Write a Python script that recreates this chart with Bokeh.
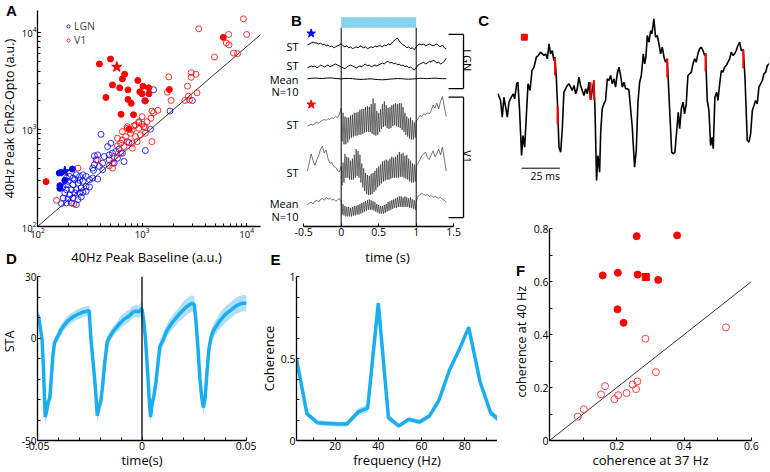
import numpy as np
from bokeh.plotting import figure
from bokeh.models import Range1d, FixedTicker, LogTicker, Legend, LegendItem, Span, CustomJSTickFormatter
from bokeh.layouts import row, column
from bokeh.embed import file_html
from bokeh.resources import INLINE
from bokeh.core.properties import value

FONT = "Open Sans"
LETTER_FONT = "Liberation Sans"
TICK_FS = "10.5px"
LAB_FS = "13px"
STA_BLUE = "#1aaeef"
STA_BAND = "#a8dcf5"

# ---------------- Panel A data (log10 of a.u.) ----------------
a_lgn_open_base = [3.267, 3.079, 3.031, 2.607, 2.827, 2.670, 2.717, 2.748, 2.780, 2.686,
                   2.638, 2.575, 2.544, 2.560, 2.623, 2.686, 2.733, 2.764, 2.811, 2.591,
                   2.528, 2.535, 2.623, 2.575, 2.528, 2.497, 2.465, 2.434, 2.403, 2.371,
                   2.355, 2.308, 2.277, 2.292, 2.340, 2.387, 2.434, 2.465, 2.418, 2.371,
                   2.324, 2.277, 2.261, 2.308, 2.355, 2.403, 2.434, 2.340, 2.292, 2.245,
                   2.387, 2.277, 2.230, 2.324, 2.371, 2.418, 2.465, 2.497, 2.245, 2.277,
                   2.544, 2.340, 2.403, 3.110, 3.025, 3.481, 2.701, 2.874]
a_lgn_open_opto = [3.190, 3.002, 2.783, 2.950, 2.670, 2.824, 2.756, 2.773, 2.797, 2.738,
                   2.721, 2.738, 2.728, 2.687, 2.653, 2.687, 2.653, 2.704, 2.756, 2.619,
                   2.602, 2.578, 2.585, 2.489, 2.499, 2.482, 2.516, 2.533, 2.516, 2.533,
                   2.482, 2.516, 2.499, 2.465, 2.431, 2.448, 2.465, 2.414, 2.397, 2.379,
                   2.379, 2.379, 2.345, 2.328, 2.345, 2.345, 2.352, 2.294, 2.284, 2.294,
                   2.277, 2.243, 2.236, 2.243, 2.226, 2.304, 2.362, 2.407, 2.407, 2.431,
                   2.636, 2.499, 2.475, 3.409, 3.296, 3.299, 2.858, 2.865]
a_v1_open_base = [3.969, 3.541, 3.827, 4.000, 3.805, 3.830, 3.874, 3.912, 3.692,
                  3.469, 3.516, 3.469, 3.255, 3.434, 3.525, 3.242, 3.277, 3.443, 3.409,
                  3.453, 3.151, 3.110, 3.085, 3.047, 2.969, 3.000, 2.921, 2.858, 3.031,
                  3.094, 3.000, 2.969, 2.937, 2.858, 2.906, 2.969, 3.016, 3.031, 2.984,
                  2.937, 2.890, 2.843, 2.811, 2.858, 2.906, 2.953, 2.796, 2.764, 2.827,
                  2.906, 3.094, 2.796, 2.733, 2.717, 2.686, 2.717, 2.575, 2.387, 2.182,
                  2.346, 2.811, 2.764]
a_v1_open_opto = [4.140, 4.038, 3.979, 3.979, 3.891, 3.873, 3.788, 3.781, 3.747,
                  3.586, 3.569, 3.538, 3.542, 3.446, 3.378, 3.385, 3.299, 3.344, 3.299,
                  3.303, 3.197, 3.173, 3.115, 3.080, 3.080, 3.053, 3.036, 3.029, 3.022,
                  3.190, 3.132, 3.070, 3.046, 3.012, 2.995, 3.012, 3.029, 2.961, 2.944,
                  2.926, 2.961, 2.926, 2.892, 2.875, 2.858, 2.875, 2.858, 2.831, 2.824,
                  2.807, 2.875, 2.756, 2.721, 2.653, 2.626, 2.602, 2.687, 2.602, 2.270,
                  2.232, 2.978, 2.910]
a_v1_fill_base = [2.592, 2.698, 2.833, 2.811, 2.717, 2.786, 2.865, 2.959, 3.009, 3.063,
                  2.978, 3.000, 3.066, 2.865, 2.896, 3.031, 2.654, 2.799, 2.918, 3.261,
                  3.776, 2.082, 2.875]
a_v1_fill_opto = [3.675, 3.726, 3.569, 3.521, 3.459, 3.429, 3.408, 3.505, 3.446, 3.429,
                  3.388, 3.367, 3.367, 3.310, 3.269, 3.295, 3.330, 3.156, 3.152, 3.412,
                  3.949, 2.462, 3.002]
a_lgn_fill_base = [2.208, 2.333, 2.261, 2.214, 2.214]
a_lgn_fill_opto = [2.551, 2.592, 2.475, 2.421, 2.393]
a_v1_star = (2.758, 3.644)
a_lgn_star = (2.261, 2.567)
a_diag_x = [100, 14500]
a_diag_y = [100, 10100]

# ---------------- Panel B data ----------------
b_ticks = [-0.5, 0, 0.5, 1, 1.5]
b_stim = (0.0, 1.0)
b_offsets = {"lgn_st1": 191, "lgn_st2": 168, "lgn_mean": 155.5,
             "v1_st1": 112, "v1_st2": 62, "v1_mean": 23.5}
b_lgn_st1 = [0, 1, 2, 3, 2,
             2, 1, 2, 0, 1, -1, 0, -2, -1, -3,
             -2, -1, 0, 1,
             -1, -2, -1, -3, -2, -4, -3, -2, -3, -1, -2, -3, -2, -4, -3, -2, -3, -1, -2, -1,
             -1, -2, 0, -1, 1, 0, 2,
             4, 6, 7, 4, 2, 0, -1, -3, -2, -4, -3, -5, -2,
             0, 1, 0, 1, -1, 0, 1, 0, -1, 0, 1, -1, -2, 0, -3, -4]
b_lgn_st2 = [-1, 0, 1, 0, 1, -1, 0, 2, 1, 0, 1, 2, 0, 1, 2, 3, 2, 1,
             0, -1, -2, 0, 1, 2, 1, 0, -1, 0, 1, 0, 2, 3, 1, 2, 0, 1, 2, 1,
             2, 3, 4, 3, 5, 6, 4, 5, 3, 4, 2, 3, 1, 2, 0, 1, -1, 0, -2, -3,
             -1, 2, 3, 4, 5, 3, 4, 6, 5, 7, 6, 4, 5, 3, 4, 6, 9]
b_lgn_mean = [0, 0.5, 0.8, 0.5, 0.3, 0.8, 1, 0.6, 0.2, 0, 0.3, 0.5, 0.2, -0.3, -0.6, -0.5,
              -0.2, 0, -0.5, -0.8, -1, -0.7, -0.3, 0, 0.3, 0.2, -0.2, -0.4, -0.2, 0.2, 0.6,
              0.4, 0.2, 0.5, 0.7, 0.4, 0.2, 0.1]
b_v1_st1_pre = [-6, -5, -4, -5, -3, -2, -3, -1, 0, 1, 0, 2, 1, 3, 2, 4, 3, 6]
b_v1_st1_up = [13, 8, 4, 3, 3, 5, 6, 8, 8, 9, 11, 12, 12, 14, 15, 14, 17, 23, 18, 10,
               8, 12, 17, 20, 16, 13, 14, 16, 17, 18, 17, 18, 18, 14, 8, 4, 2, 3, 0, -2, -1]
b_v1_st1_dn = [-22, -25, -25, -23, -20, -18, -17, -16, -16, -15, -15, -14, -13, -12, -12, -12,
               -14, -15, -16, -15, -12, -9, -7, -6, -8, -9, -8, -6, -5, -6, -7, -8, -10, -12,
               -15, -17, -19, -20, -20, -18]
b_v1_st1_post = [2, 5, 4, 7, 6, 8, 7, 10, 16, 13, 18, 12, 20, 25, 14, 4]
b_v1_st2_pre = [-3, 6, 15, 8, 3, 9, 13, 20, 23, 16, 19, 10, 5, 6, 2, 1, -2, -4]
b_v1_st2_up = [2, 6, 15, 12, 11, 8, 10, 14, 20, 18, 14, 5, 0, -5, -7, -8, -6, -5, -3, 0,
               2, 4, 7, 8, 9, 8, 10, 12, 11, 12, 14, 17, 15, 16, 13, 14, 10, 8, 5, 4, 2]
b_v1_st2_dn = [-18, -15, -10, -10, -12, -12, -12, -10, -8, -10, -15, -20, -24, -27, -28, -28,
               -27, -25, -23, -20, -18, -16, -14, -13, -12, -12, -11, -10, -10, -10, -10, -9,
               -9, -10, -11, -12, -14, -15, -15, -14]
b_v1_st2_post = [5, 9, 13, 15, 17, 11, 9, 14, 18, 12, 15, 20, 14, 22, 10, -3]
b_v1_mean_pre = [0, 2, 3, 1, 4, 5, 3, 6, 7, 5, 8, 6, 7, 5, 6, 4, 5, 7]
b_v1_mean_up = [4, 1, -1, -2, -2, -3, -2, -1, -1, 0, 1, 2, 3, 4, 5, 6, 5, 4, 3, 1,
                0, -1, -1, 0, 1, 3, 4, 5, 6, 7, 8, 9, 9, 8, 9, 8, 7, 8, 6, 5, 3]
b_v1_mean_dn = [-10, -11, -12, -12, -12, -12, -11, -11, -10, -10, -9, -8, -7, -6, -5, -5,
                -5, -6, -7, -8, -9, -9, -9, -8, -7, -6, -5, -4, -3, -3, -2, -2, -2, -2, -2,
                -2, -3, -3, -4, -5]
b_v1_mean_post = [9, 11, 12, 11, 10, 11, 9, 10, 8, 9, 8, 7, 8, 6, 5, 3]
b_labels = ["ST", "ST", "Mean", "N=10", "ST", "ST", "Mean", "N=10"]
b_label_y = [189, 169, 155, 142, 108, 58, 25, 11]
b_star_t = -0.40
b_star_y = {"lgn": 203, "v1": 128.7}

# ---------------- Panel C data (ms, a.u.) ----------------
c_t = [0, 1.7, 2.8, 3.9, 5.0, 6.1, 7.2, 8.7, 10.0, 10.9, 12.2, 13.0, 14.1, 15.4, 16.3, 17.4,
       18.7, 19.6, 20.9, 22.2, 23.5, 25.0, 26.3, 27.8, 28.9, 30.0, 31.1, 32.2, 33.3, 34.3,
       35.4, 36.5, 37.2, 38.0, 38.9, 39.8, 40.9, 42.0, 43.0, 44.1, 45.2, 46.3, 47.4, 48.5,
       49.6, 50.7, 51.7, 52.8, 53.9, 55.0, 56.1, 57.2, 58.3, 59.3, 60.4, 61.5, 62.6, 63.3,
       64.3, 65.2, 66.3, 67.0, 68.0, 69.1, 70.2, 71.3, 72.4, 73.5, 74.6, 75.7, 76.7, 77.8,
       78.9, 80.0, 81.1, 82.2, 83.3, 84.3, 85.4, 87.6, 89.1, 90.2, 91.3, 92.4, 93.5, 94.8,
       95.7, 96.5, 97.4, 98.5, 99.6, 100.4, 101.7, 102.8, 103.9, 105.0, 106.1, 107.2, 108.3,
       109.3, 110.4, 111.7, 113.3, 114.3, 115.4, 116.5, 117.6, 118.5, 119.6, 120.7, 121.7,
       122.8, 123.9, 125.0, 126.1, 127.2, 128.3, 129.3, 130.4, 131.5, 132.6, 133.7, 134.8,
       135.4, 136.5, 137.6, 138.7, 139.8, 140.4, 141.5, 142.6, 143.5, 144.6, 145.7, 146.7,
       147.8, 148.9, 150.0, 151.1, 152.2, 153.3, 154.3, 155.4, 156.5, 157.6, 158.7, 160.0,
       161.1, 162.6, 163.7, 164.8, 165.9, 167.0, 168.0, 169.1, 170.2, 171.3, 172.4, 173.5,
       174.6, 175.7, 176.7, 177.8]
c_v = [6.7, 0, -16.7, 3.3, -6.7, -16.7, -1.7, 3.3, 6.7, 1.7, 16.7, 18.3, -10, -55, -35, -46.7,
       -10, 16.7, 10, 30, 33.3, 43.3, 45, 48.3, 46.7, 45, 46.7, 41.7, 56.7, 46.7,
       50, 40, 43.3, 25, -6, -46.7, -51.7, -26.7, 8.3, 11.7, 15, 16.7, 13.3, 10,
       15, 6.7, 11.7, 23.3, 15, 10, 5, 11.7, 6.7, 18.3, 0.7, 10, 20, -10,
       -80, -55, -71.7, -31.7, -8.3, -3.3, 0, 21.7, 20, 25, 16.7, 21.7, 13.3, 26.7,
       33.3, 25, 13.3, 18.3, 11.7, 11.7, 10.7, -26.7, -66.7, -50, -1.7, 18.3, 25, 46.7,
       36.7, 43.3, 65, 58.3, 70, 66.7, 81.7, 63.3, 65, 56.7, 46.7, 53.3, 43.3,
       38.3, 41.7, 0, -51.7, -53.3, -51.7, -31.7, -11.7, -28.3, -8.3, -1.7, -13.3,
       -3.3, 25, 26.7, 28.3, 36.7, 41.7, 38.3, 46.7, 51.7, 53.3, 50, 45,
       47.3, 0, -10, -45, -36.7, -48.3, 3.3, 8.3, 0, 16.7, 30, 28.3,
       33.3, 35, 38.3, 41.7, 48.3, 45, 46.7, 50, 55, 58.3, 50, 50.7,
       23.3, -40, -41.7, -33.3, -10, -5, 0, -3.3, 13.3, 16.7, 20, 26.7,
       28.3, 35, 36.7, 33.3]
c_spike_t = [37.2, 38.9, 60.4, 62.6, 110.4, 135.4, 160.0]
c_spike_lo = [25, -24, 0.7, 0.7, 23.3, 29, 32.3]
c_spike_hi = [43.3, -6, 18.3, 20, 41.7, 47.3, 50.7]
c_marker = (17.2, 63.3)
c_scale_start, c_scale_len, c_scale_y = 15.4, 25, -67.7

# ---------------- Panel D data ----------------
d_t = [-0.0500, -0.0492, -0.0484, -0.0478, -0.0472, -0.0467, -0.0463, -0.0456, -0.0450, -0.0441,
       -0.0434, -0.0427, -0.0419, -0.0403, -0.0388, -0.0372, -0.0356, -0.0341, -0.0325, -0.0309,
       -0.0294, -0.0278, -0.0263, -0.0253, -0.0244, -0.0234, -0.0223, -0.0214, -0.0206, -0.0197,
       -0.0188, -0.0178, -0.0166, -0.0153, -0.0138, -0.0122, -0.0106, -0.0091, -0.0075, -0.0059,
       -0.0044, -0.0028, -0.0016, 0.0000, 0.0008, 0.0017, 0.0027, 0.0034, 0.0041, 0.0048,
       0.0058, 0.0067, 0.0077, 0.0086, 0.0102, 0.0117, 0.0133, 0.0148, 0.0164, 0.0180,
       0.0195, 0.0211, 0.0227, 0.0239, 0.0250, 0.0258, 0.0267, 0.0277, 0.0286, 0.0294,
       0.0302, 0.0311, 0.0320, 0.0331, 0.0344, 0.0359, 0.0375, 0.0391, 0.0406, 0.0422,
       0.0438, 0.0453, 0.0469, 0.0484, 0.0500]
d_sta = [11.5, 8.7, 3.2, -0.8, -13.4, -27.6, -38.6, -35.5, -31.5, -29.2,
         -19.7, -9.5, -2.4, 0.8, 3.9, 6.3, 8.2, 9.5, 10.6, 11.5,
         12.1, 12.8, 13.1, 13.4, -0.8, -11.8, -24.4, -37.9, -33.9, -30.8,
         -22.9, -11.8, -1.6, 0.8, 3.2, 5.2, 7.1, 8.7, 9.9, 11.0,
         12.6, 13.1, 12.8, 14.2, 8.7, -0.8, -16.6, -29.2, -38.6, -32.3,
         -27.6, -21.3, -11.8, -3.9, -0.8, 3.2, 5.8, 7.9, 9.9, 11.8,
         13.4, 15.0, 16.2, 16.9, 16.2, 8.7, -3.9, -19.7, -29.2, -33.9,
         -29.2, -16.6, -5.5, 0.8, 3.9, 6.3, 8.7, 10.6, 12.1, 13.4,
         14.7, 15.8, 16.6, 17.0, 16.9]
d_sem = [2.5, 2.5, 2.5, 2.5, 3, 3, 3.5, 3, 3, 3,
         3, 2.5, 2.5, 2.5, 2.5, 2.5, 2.5, 2.5, 2.5, 2.5,
         2.5, 2.5, 2.5, 2.5, 3, 3, 3, 3.5, 3, 3,
         3, 3, 2.5, 2.5, 2.5, 2.5, 3, 3, 3, 3,
         3, 3, 3, 3.5, 3, 3, 3, 3.5, 3.5, 3,
         3, 3, 3, 3, 3, 3, 3.5, 3.5, 3.5, 3.5,
         4, 4, 4, 4, 4, 3.5, 3.5, 3.5, 3.5, 3.5,
         3.5, 3.5, 3.5, 3.5, 3.5, 3.5, 4, 4, 4, 4,
         4, 4, 4, 4, 4]

# ---------------- Panel E data ----------------
e_freq = [2.2, 7.0, 11.9, 16.8, 21.7, 25.5, 30.7, 35.1, 40.0, 44.7, 49.5, 54.1, 59.1, 63.6,
          68.0, 72.9, 77.6, 81.8, 87.0, 91.9, 96.6]
e_coh = [0.497, 0.164, 0.108, 0.104, 0.100, 0.101, 0.174, 0.198, 0.838, 0.139, 0.089, 0.129,
         0.113, 0.149, 0.244, 0.430, 0.560, 0.690, 0.360, 0.170, 0.115]
e_sem = [0.02, 0.015, 0.015, 0.015, 0.015, 0.015, 0.02, 0.025, 0.025, 0.02, 0.015, 0.015,
         0.015, 0.015, 0.015, 0.015, 0.015, 0.02, 0.02, 0.02, 0.02]

# ---------------- Panel F data ----------------
f_fill_37 = [0.259, 0.379, 0.158, 0.203, 0.262, 0.323, 0.202, 0.220]
f_fill_40 = [0.771, 0.774, 0.623, 0.633, 0.626, 0.606, 0.495, 0.444]
f_square = (0.286, 0.617)
f_open_37 = [0.285, 0.524, 0.316, 0.261, 0.247, 0.257, 0.229, 0.204, 0.193, 0.165, 0.153, 0.102, 0.084]
f_open_40 = [0.384, 0.427, 0.258, 0.223, 0.211, 0.194, 0.179, 0.171, 0.156, 0.205, 0.174, 0.118, 0.090]
f_unity = [0, 0.6]


# ---------------- helpers ----------------
def new_fig(w, h, xr, yr, bl, br, bt, bb, **kw):
    p = figure(width=w, height=h, x_range=xr, y_range=yr, output_backend="svg",
               toolbar_location=None, min_border_left=bl, min_border_right=br,
               min_border_top=bt, min_border_bottom=bb, **kw)
    p.outline_line_color = None
    p.xgrid.visible = False
    p.ygrid.visible = False
    return p


def strip_fig(x0, x1, y0, y1):
    """A bare figure whose frame fills its canvas; ranges are screen pixels (y downward)."""
    p = figure(width=x1 - x0, height=y1 - y0, x_range=Range1d(x0, x1), y_range=Range1d(y1, y0),
               output_backend="svg", toolbar_location=None, x_axis_location=None,
               y_axis_location=None, min_border_left=0, min_border_right=0,
               min_border_top=0, min_border_bottom=0)
    p.outline_line_color = None
    p.grid.visible = False
    return p


def put_text(p, x, y, text, size=LAB_FS, angle=0.0, letter=False):
    p.text(x=[x], y=[y], text=[text], angle=angle, text_align="center", text_baseline="middle",
           text_font=value(LETTER_FONT if letter else FONT),
           text_font_size="15px" if letter else size,
           text_font_style="bold" if letter else "normal", text_color="black")


def style_axes(p, tick_fs=TICK_FS):
    for ax in p.axis:
        ax.axis_line_color = "black"
        ax.axis_line_width = 1.3
        ax.major_tick_line_color = "black"
        ax.minor_tick_line_color = "black"
        ax.major_tick_in = 3
        ax.major_tick_out = 0
        ax.minor_tick_in = 3
        ax.minor_tick_out = 0
        ax.major_label_text_font = FONT
        ax.major_label_text_font_size = tick_fs
        ax.major_label_text_color = "black"
        ax.major_label_text_line_height = 1.0
        ax.major_label_standoff = 1
        ax.axis_label_text_font = FONT
        ax.axis_label_text_font_size = LAB_FS
        ax.axis_label_text_font_style = "normal"
        ax.axis_label_text_color = "black"
        ax.axis_label_text_line_height = 1.0
    p.xaxis.axis_label_standoff = -2
    p.yaxis.axis_label_standoff = 0


num_fmt = CustomJSTickFormatter(code="return String(tick);")

# Layout grid (screen pixels): total 769 x 471
# ---------------- left strip: letters A, D and the two left y titles ----------------
sL = strip_fig(0, 18, 0, 471)
put_text(sL, 11, 10, "A", letter=True)
put_text(sL, 9, 118, "40Hz Peak ChR2-Opto (a.u.)", size="12.5px", angle=np.pi / 2)
put_text(sL, 11, 258, "D", letter=True)
put_text(sL, 9, 341, "STA", size="12.5px", angle=np.pi / 2)

# ---------------- Panel A ----------------
pA = new_fig(244, 246, Range1d(100, 13550), Range1d(100, 16830), 17, 2, 10, 20,
             x_axis_type="log", y_axis_type="log")
pA.xaxis.ticker = LogTicker(num_minor_ticks=10)
pA.yaxis.ticker = LogTicker(num_minor_ticks=10)
style_axes(pA, "9.5px")
pA.line(a_diag_x, a_diag_y, color="black", line_width=0.8)
r_lgn = pA.scatter(10 ** np.array(a_lgn_open_base), 10 ** np.array(a_lgn_open_opto), marker="circle",
                   size=6, fill_color=None, line_color="blue", line_width=0.8)
r_v1 = pA.scatter(10 ** np.array(a_v1_open_base), 10 ** np.array(a_v1_open_opto), marker="circle",
                  size=6, fill_color=None, line_color="red", line_width=0.8)
pA.scatter(10 ** np.array(a_v1_fill_base), 10 ** np.array(a_v1_fill_opto), marker="circle",
           size=6, color="red")
pA.scatter(10 ** np.array(a_lgn_fill_base), 10 ** np.array(a_lgn_fill_opto), marker="circle",
           size=6, color="blue")
pA.scatter([10 ** a_v1_star[0]], [10 ** a_v1_star[1]], marker="star", size=11, color="red")
pA.scatter([10 ** a_lgn_star[0]], [10 ** a_lgn_star[1]], marker="star", size=11, color="blue")
leg = Legend(items=[LegendItem(label="LGN", renderers=[r_lgn]), LegendItem(label="V1", renderers=[r_v1])],
             location=(27, 179), padding=0, spacing=0, margin=0, label_height=10, glyph_height=10,
             glyph_width=8, label_standoff=2, label_text_font=FONT, label_text_font_size="10.5px",
             background_fill_alpha=0, border_line_alpha=0)
pA.add_layout(leg)

# ---------------- Panel B ----------------
pB = new_fig(235, 246, Range1d(-1.049, 2.084), Range1d(1, 227), 0, 0, 0, 20, y_axis_location=None)
pB.xaxis.ticker = FixedTicker(ticks=b_ticks)
pB.xaxis.formatter = num_fmt
pB.xaxis.bounds = (b_ticks[0], b_ticks[-1])
style_axes(pB)
pB.quad(left=[b_stim[0]], right=[b_stim[1]], bottom=[209], top=[220], fill_color="#8cd5f0",
        line_color=None, hatch_pattern="vertical_line", hatch_color="#5fc2ea", hatch_scale=1.9,
        hatch_weight=0.6)
pB.segment(x0=list(b_stim), y0=[0, 0], x1=list(b_stim), y1=[209, 209], color="black", line_width=1)

t_lgn = np.linspace(-0.45, 1.4, len(b_lgn_st1))
t_lgn_mean = np.linspace(-0.45, 1.4, len(b_lgn_mean))
t_pre = np.linspace(-0.45, -0.025, 18)
t_stim = np.linspace(0, 1, 81)
t_post = np.linspace(1.025, 1.4, 16)
t_v1 = np.concatenate([t_pre, t_stim, t_post])


def v1_trace(pre, up, dn, post, off):
    stim = np.empty(81)
    stim[0::2] = up
    stim[1::2] = dn
    return off + np.concatenate([np.array(pre, float), stim, np.array(post, float)])


pB.line(t_lgn, b_offsets["lgn_st1"] + np.array(b_lgn_st1), color="black", line_width=1)
pB.line(t_lgn, b_offsets["lgn_st2"] + np.array(b_lgn_st2), color="black", line_width=1)
pB.line(t_lgn_mean, b_offsets["lgn_mean"] + np.array(b_lgn_mean), color="black", line_width=1)
for pre, up, dn, post, key in [(b_v1_st1_pre, b_v1_st1_up, b_v1_st1_dn, b_v1_st1_post, "v1_st1"),
                               (b_v1_st2_pre, b_v1_st2_up, b_v1_st2_dn, b_v1_st2_post, "v1_st2"),
                               (b_v1_mean_pre, b_v1_mean_up, b_v1_mean_dn, b_v1_mean_post, "v1_mean")]:
    pB.line(t_v1, v1_trace(pre, up, dn, post, b_offsets[key]), color="#1a1a1a", line_width=0.6)
pB.text(x=[-0.568] * len(b_labels), y=b_label_y, text=b_labels, text_align="right",
        text_baseline="middle", text_font=value(FONT), text_font_size="11px", text_color="black")
pB.scatter([b_star_t], [b_star_y["lgn"]], marker="star", size=9, color="blue")
pB.scatter([b_star_t], [b_star_y["v1"]], marker="star", size=9, color="red")
br_x, br_x0 = 1.631, 1.431
for lo, hi in [(145.3, 202), (10.3, 136.3)]:
    pB.segment(x0=[br_x, br_x0, br_x0], y0=[lo, hi, lo], x1=[br_x, br_x, br_x], y1=[hi, hi, lo],
               color="black", line_width=1.3)
pB.text(x=[1.69, 1.69], y=[175, 74], text=["LGN", "V1"], angle=-np.pi / 2, text_align="center",
        text_baseline="middle", text_font=value(FONT), text_font_size="11px", text_color="black")
pB.text(x=[-0.596, 1.90], y=[217, 217], text=["B", "C"], text_align="center", text_baseline="middle",
        text_font=value(LETTER_FONT), text_font_size="15px", text_font_style="bold", text_color="black")

# ---------------- middle strip: A/B x titles and letter E ----------------
sM = strip_fig(18, 497, 246, 268)
put_text(sM, 146, 256, "40Hz Peak Baseline (a.u.)")
put_text(sM, 387, 256, "time (s)")
put_text(sM, 275, 259, "E", letter=True)

# ---------------- Panel C ----------------
pC = new_fig(272, 205, Range1d(-0.3, 177.1), Range1d(-105, 100), 0, 0, 0, 0,
             x_axis_location=None, y_axis_location=None)
pC.line(c_t, c_v, color="black", line_width=1.6)
pC.segment(x0=c_spike_t, y0=c_spike_lo, x1=c_spike_t, y1=c_spike_hi, color="red", line_width=2)
pC.scatter([c_marker[0]], [c_marker[1]], marker="square", size=6, color="red")
pC.line([c_scale_start, c_scale_start + c_scale_len], [c_scale_y, c_scale_y], color="black", line_width=1)
pC.text(x=[c_scale_start + c_scale_len * 0.62], y=[c_scale_y - 7.5], text=["%d ms" % c_scale_len],
        text_align="center", text_baseline="middle", text_font=value(FONT), text_font_size="10.5px",
        text_color="black")

# ---------------- Panel D ----------------
pD = new_fig(238, 203, Range1d(-0.05, 0.05), Range1d(-50, 30), 16, 10, 7, 28)
pD.xaxis.ticker = FixedTicker(ticks=[-0.05, 0, 0.05],
                              minor_ticks=[-0.04, -0.03, -0.02, -0.01, 0.01, 0.02, 0.03, 0.04])
pD.yaxis.ticker = FixedTicker(ticks=[-50, 0, 30], minor_ticks=[-40, -30, -20, -10, 10, 20])
pD.xaxis.formatter = num_fmt
pD.yaxis.formatter = num_fmt
pD.xaxis.axis_label = "time(s)"
style_axes(pD)
pD.yaxis.major_label_text_font_size = "10px"
d_t_arr, d_sta_arr, d_sem_arr = np.array(d_t), np.array(d_sta), np.array(d_sem)
pD.varea(x=d_t_arr, y1=d_sta_arr - d_sem_arr, y2=d_sta_arr + d_sem_arr, fill_color=STA_BAND, fill_alpha=0.9)
pD.line(d_t_arr, d_sta_arr, color=STA_BLUE, line_width=3.5)
pD.add_layout(Span(location=0, dimension="height", line_color="black", line_width=1.3))

# ---------------- Panel E ----------------
pE = new_fig(241, 203, Range1d(2.2, 95.1), Range1d(0, 1), 32, 0, 8, 28)
pE.xaxis.ticker = FixedTicker(ticks=[20, 40, 60, 80], minor_ticks=[10, 30, 50, 70, 90])
pE.yaxis.ticker = FixedTicker(ticks=[0, 0.5, 1], minor_ticks=[0.125, 0.25, 0.375, 0.625, 0.75, 0.875])
pE.xaxis.formatter = num_fmt
pE.yaxis.formatter = num_fmt
pE.xaxis.axis_label = "frequency (Hz)"
pE.yaxis.axis_label = "Coherence"
style_axes(pE)
e_f, e_c, e_s = np.array(e_freq), np.array(e_coh), np.array(e_sem)
pE.varea(x=e_f, y1=e_c - e_s, y2=e_c + e_s, fill_color=STA_BAND, fill_alpha=0.9)
pE.line(e_f, e_c, color=STA_BLUE, line_width=3.5)

# ---------------- F strip + Panel F ----------------
sF = strip_fig(497, 530, 205, 471)
put_text(sF, 520, 258, "F", letter=True)
put_text(sF, 521, 347, "coherence at 40 Hz", size="12.5px", angle=np.pi / 2)

pF = new_fig(239, 266, Range1d(0, 0.6), Range1d(0, 0.8), 17, 18, 23, 28)
pF.xaxis.ticker = FixedTicker(ticks=[0.2, 0.4, 0.6], minor_ticks=[0.1, 0.3, 0.5])
pF.yaxis.ticker = FixedTicker(ticks=[0, 0.2, 0.4, 0.6, 0.8], minor_ticks=[0.1, 0.3, 0.5, 0.7])
pF.xaxis.formatter = num_fmt
pF.yaxis.formatter = num_fmt
pF.xaxis.axis_label = "coherence at 37 Hz"
style_axes(pF)
pF.line(f_unity, f_unity, color="black", line_width=0.8)
pF.scatter(f_open_37, f_open_40, marker="circle", size=7, fill_color=None, line_color="#ff4040", line_width=1)
pF.scatter(f_fill_37, f_fill_40, marker="circle", size=7, color="red")
pF.scatter([f_square[0]], [f_square[1]], marker="square", size=7, color="red")

layout = row(sL, column(row(pA, pB), sM, row(pD, pE)), column(pC, row(sF, pF)))
open("out.html", "w").write(file_html(layout, INLINE))
